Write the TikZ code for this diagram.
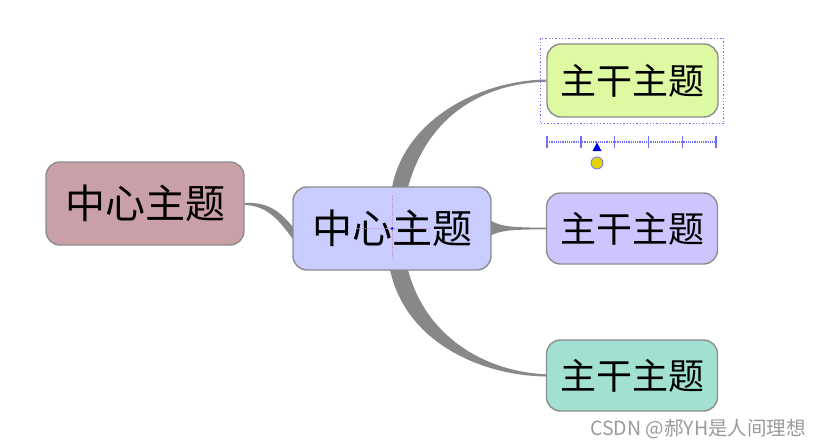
\documentclass[tikz,border=0pt]{standalone}
\usepackage{fontspec}
\newfontfamily\cjk{Noto Sans CJK SC}
\usetikzlibrary{calc}
\definecolor{rootfill}{HTML}{C9A0A8}
\definecolor{centfill}{HTML}{C8CCFF}
\definecolor{topfill}{HTML}{DDF9A2}
\definecolor{midfill}{HTML}{D0C4FF}
\definecolor{botfill}{HTML}{A2E1D1}
\definecolor{bordc}{HTML}{8C8C8C}
\definecolor{linkc}{HTML}{888888}
\definecolor{selc}{HTML}{6F6FFF}
\definecolor{handc}{HTML}{E2D400}
\definecolor{wmc}{HTML}{9A9A9A}
\pgfdeclarelayer{bg}
\pgfsetlayers{bg,main}
\tikzset{
  topic/.style={draw=bordc, line width=1.4pt, rounded corners=14pt, inner sep=0pt, align=center},
  bigtopic/.style={topic, minimum width=198pt, minimum height=83pt, font=\cjk\fontsize{40}{40}\selectfont},
  subtopic/.style={topic, minimum width=171pt, minimum height=72pt, font=\cjk\fontsize{36}{36}\selectfont},
  link/.style={fill=linkc, draw=none},
  selbox/.style={draw=selc, line width=1.3pt, dotted},
  rulerline/.style={draw=selc, line width=1.2pt, densely dotted},
  tick/.style={draw=selc, line width=1.4pt}
}
\begin{document}
\begin{tikzpicture}[x=1pt,y=-1pt]
\useasboundingbox (0,0) rectangle (819,447);

% nodes
\node[bigtopic, fill=rootfill] (l) at (145,203.5) {中心主题};
\node[bigtopic, fill=centfill] (c) at (392,228.5) {中心主题};
\node[subtopic, fill=topfill, minimum height=73pt] (t) at (632.5,80.5) {主干主题};
\node[subtopic, fill=midfill, minimum height=71pt] (m) at (632,228.5) {主干主题};
\node[subtopic, fill=botfill, minimum height=71pt] (b) at (632,375.5) {主干主题};

% connectors
\begin{pgfonlayer}{bg}
\fill[link] ($(l.east)+(0,-0.5)$) .. controls ($(l.east)+(26,-2)$) and ($(c.west)+(-10,-14)$) .. ($(c.west)+(1,-1)$)
  -- ($(c.west)+(1,11)$) .. controls ($(c.west)+(-12,-6)$) and ($(l.east)+(24,2)$) .. ($(l.east)+(0,1.5)$) -- cycle;
\fill[link] ($(c.north)+(0,1)$) .. controls ($(c.north)+(13,-67)$) and ($(t.west)+(-67,0)$) .. ($(t.west)+(0,-1)$)
  -- ($(t.west)+(0,1.2)$) .. controls ($(t.west)+(-62,3)$) and ($(c.north)+(36,-72)$) .. ($(c.north)+(16,1)$) -- cycle;
\fill[link] ($(c.east)+(-1,-8)$) .. controls ($(c.east)+(9,-2)$) and ($(c.east)+(19,-1)$) .. ($(m.west)+(0,-0.8)$)
  -- ($(m.west)+(0,0.8)$) .. controls ($(c.east)+(19,1)$) and ($(c.east)+(9,2)$) .. ($(c.east)+(-1,7)$) -- cycle;
\fill[link] ($(c.south)+(-2,-1)$) .. controls ($(c.south)+(13,70)$) and ($(b.west)+(-67,0)$) .. ($(b.west)+(0,1)$)
  -- ($(b.west)+(0,-1.2)$) .. controls ($(b.west)+(-62,-4)$) and ($(c.south)+(33,65)$) .. ($(c.south)+(16,-1)$) -- cycle;
\end{pgfonlayer}

% cursor crosshair in the central topic
\draw[draw=violet!40, line width=0.6pt, densely dotted] ($(c.center)+(0,-34)$) -- ($(c.center)+(0,30)$);
\draw[draw=violet!40, line width=0.6pt, densely dotted] ($(c.center)+(-35,0)$) -- ($(c.center)+(38,0)$);
\fill[blue] (c.center) circle (1.5pt);

% selection box and ruler
\draw[selbox] ($(t.north west)+(-6,-5)$) rectangle ($(t.south east)+(5,6)$);
\coordinate (r0) at (547,142);
\coordinate (r1) at (716,142);
\draw[rulerline] (r0) -- (r1);
\foreach \i in {0,1,2,3,4,5} {
  \draw[tick] ($(r0)!\i/5!(r1)+(0,-6)$) -- ($(r0)!\i/5!(r1)+(0,6)$);
}
\coordinate (hnd) at (597,163);
\fill[blue!90!black] (597,142.5) -- (601.5,151) -- (592.5,151) -- cycle;
\draw[fill=handc, draw=selc, line width=0.8pt] (hnd) circle (6pt);

% watermark
\node[anchor=base east, text=wmc, inner sep=0pt, font=\cjk\fontsize{19.5}{19.5}\selectfont] (wm) at (806,435) {CSDN @郝YH是人间理想};
\end{tikzpicture}
\end{document}
